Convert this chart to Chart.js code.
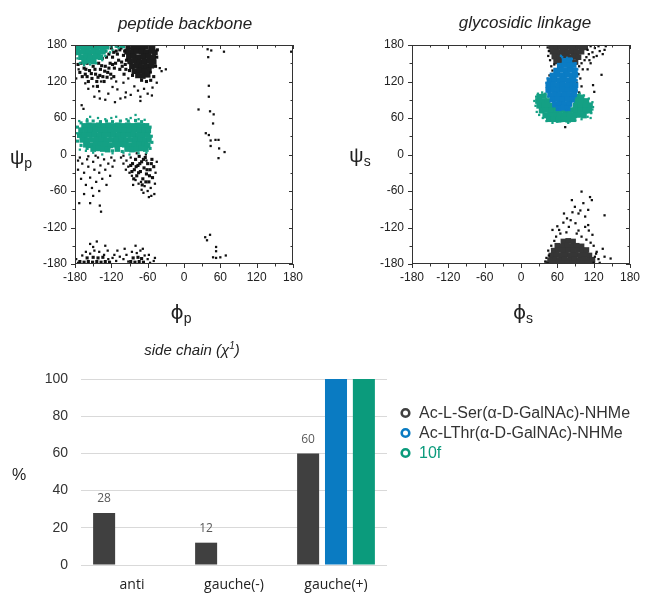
<!DOCTYPE html>
<html><head><meta charset="utf-8">
<script src="https://cdn.jsdelivr.net/npm/chart.js@4/dist/chart.umd.min.js"></script>
<style>
body{margin:0;background:#fff;}
#wrap{position:relative;width:646px;height:597px;overflow:hidden;font-family:"Liberation Sans",Arial,sans-serif;color:#222;}
canvas{position:absolute;}
.lbl{position:absolute;transform:translate(-50%,-50%);white-space:nowrap;line-height:1;}
</style></head><body>
<div id="wrap">
<canvas id="bb" width="323" height="300" style="left:0;top:0;width:323px;height:300px"></canvas>
<canvas id="gl" width="323" height="300" style="left:323px;top:0;width:323px;height:300px"></canvas>
<canvas id="sc" width="646" height="297" style="left:0;top:300px;width:646px;height:297px"></canvas>
<div class="lbl" style="left:185px;top:23px;font-size:17px;font-style:italic">peptide backbone</div>
<div class="lbl" style="left:525px;top:22px;font-size:17px;font-style:italic">glycosidic linkage</div>
<div class="lbl" style="left:21px;top:157px"><span style="font-size:20px">ψ</span><span style="font-size:14px;position:relative;top:4px">p</span></div>
<div class="lbl" style="left:360px;top:155px"><span style="font-size:20px">ψ</span><span style="font-size:14px;position:relative;top:4px">s</span></div>
<div class="lbl" style="left:181px;top:312px"><span style="font-size:20px;font-family:'DejaVu Sans'">ϕ</span><span style="font-size:14px;position:relative;top:4px">p</span></div>
<div class="lbl" style="left:523px;top:312px"><span style="font-size:20px;font-family:'DejaVu Sans'">ϕ</span><span style="font-size:14px;position:relative;top:4px">s</span></div>
<div class="lbl" style="left:192px;top:349px;font-size:15px;font-style:italic">side chain (χ<sup style="font-size:10px">1</sup>)</div>
<div class="lbl" style="left:19px;top:475px;font-size:16px">%</div>
</div>
<script>
// ---------- peptide backbone (phi_p, psi_p) ----------
const bbSerCore = [[-92,177],[-84,176],[-76,177],[-68,176],[-60,177],[-52,176],
[-94,169],[-86,168],[-78,170],[-70,169],[-62,168],[-54,170],[-48,168],
[-91,161],[-83,162],[-75,160],[-67,161],[-59,162],[-51,160],
[-89,153],[-81,154],[-73,152],[-65,153],[-57,154],[-50,152],
[-86,145],[-78,146],[-70,144],[-62,145],[-54,146],
[-82,137],[-74,138],[-66,137],[-58,138],
[-76,130],[-68,129],[-60,131]];
const bbSerMid = [[-170,150],[-165,142],[-160,150],[-156,138],[-150,145],[-146,132],[-141,150],[-138,140],[-134,128],[-130,145],[-126,135],[-122,150],[-118,160],[-115,142],[-112,170],[-108,155],[-104,175],[-100,163],[-97,148],[-160,128],[-152,125],[-144,120],[-168,160],[-172,135],[-128,160],[-120,175],[-110,178],[-135,158],[-148,158],[-155,165],[-98,170],[-96,140],[-45,160],[-47,145],[-44,172],[-50,128],[-55,122],[-62,120],[-70,122],[-85,130],[-90,138],[-95,155],[-163,132],[-142,127],[-131,137],[-118,148],[-106,140],[-103,152],
[-175,148],[-168,128],[-162,140],[-158,120],[-153,133],[-147,140],[-143,112],[-139,130],[-136,146],[-132,120],[-127,127],[-124,142],[-121,132],[-116,128],[-113,150],[-110,165],[-106,172],[-102,145],[-99,132],[-124,165],[-116,168],[-130,170],[-140,160],[-158,158],
[-85,-15],[-80,-8],[-76,-18],[-72,-28],[-70,-12],[-66,-22],[-64,-5],[-62,-32],[-60,-15],[-56,-25],[-53,-8],[-52,-38],[-58,-45],[-68,-40],[-78,-35],[-74,-3],[-82,-25],[-50,-20],
[-83,-40],[-79,-20],[-75,-30],[-69,-50],[-63,-45],[-57,-35],[-54,-15],[-61,-25],[-67,-8],[-73,-15],[-88,-18],[-86,-28],
[-172,-176],[-165,-177],[-158,-176],[-151,-177],[-144,-176],[-137,-177],[-130,-176],[-123,-177],[-88,-176],[-81,-177],[-74,-176],[-67,-177],[-160,-170],[-150,-169],[-142,-170],[-134,-169],[-84,-170],[-76,-169],[-70,-171]];
const bbSerDots = [[-163,117],[-158,108],[-150,112],[-140,104],[-137,120],[-125,100],[-118,111],[-110,107],[-105,92],[-100,118],[-96,102],[-88,98],[-82,112],[-76,105],[-72,95],[-66,108],[-60,100],[-52,110],[-45,118],[-40,142],[-30,140],[-37,137],[-55,135],[-148,95],[-130,90],[-169,81],[-166,75],[-139,92],[-114,86],[-97,94],[-72,88],[-53,97],[-120,125],[-112,120],[-92,125],[-176,170],[-174,140],[-178,125],
[-172,-5],[-168,-15],[-175,-25],[-165,-30],[-160,-8],[-158,-20],[-155,-38],[-150,-12],[-148,-25],[-145,-45],[-142,-5],[-140,-30],[-138,-18],[-135,-40],[-132,-8],[-130,-25],[-128,-50],[-125,-15],[-122,-35],[-120,-5],[-170,-40],[-162,-50],[-152,-55],[-158,-3],[-146,-2],[-175,-10],[-118,-20],[-115,-10],[-140,-60],[-165,-65],[-150,-68],[-173,-80],[-155,-80],[-139,-84],[-137,-94],
[-100,-2],[-95,-10],[-92,-20],[-88,-5],[-86,-35],[-90,-30],[-96,-25],[-100,-15],[-104,-5],[-55,-55],[-48,-48],[-60,-60],[-65,-52],[-70,-58],[-75,-48],[-80,-42],[-49,-65],[-54,-68],[-58,-70],[-47,-30],[-45,-12],[-63,0],[-78,2],[-71,-45],[-67,-63],[-84,-50],[-62,-10],
[-178,-172],[-168,-166],[-162,-160],[-155,-163],[-148,-158],[-140,-160],[-132,-165],[-126,-158],[-118,-170],[-112,-175],[-106,-168],[-100,-172],[-95,-165],[-92,-176],[-86,-160],[-78,-162],[-72,-158],[-65,-166],[-60,-172],[-56,-178],[-50,-175],[-155,-147],[-144,-143],[-150,-152],[-130,-150],[-110,-158],[-98,-155],[-80,-150],[-68,-155],[-58,-165],[-48,-170],[-175,-178],[-125,-172],[-115,-165],
[39,173],[45,171],[66,169],[40,160],[41,113],[41,95],[24,74],[43,71],[49,66],[48,51],[36,35],[41,32],[44,23],[52,24],[57,24],[44,14],[58,10],[67,4],[57,-6],[43,-132],[35,-136],[38,-141],[53,-152],[53,-159],[48,-169],[53,-170],[60,-169],[69,-166],[177,169]];
const bb10fCore = [[-176,176],[-168,177],[-160,176],[-152,177],[-144,176],[-136,177],[-128,177],
[-174,168],[-166,169],[-158,168],[-150,169],[-142,168],[-134,169],
[-170,160],[-162,161],[-154,160],[-146,161],[-138,160],
[-165,153],[-157,154],[-149,153],
[-165,47],[-157,48],[-149,47],[-141,48],[-133,47],[-125,48],[-117,47],[-109,48],[-101,47],[-93,48],[-85,47],[-77,48],[-69,47],[-62,47],
[-170,40],[-162,39],[-154,40],[-146,41],[-138,40],[-130,39],[-122,40],[-114,41],[-106,40],[-98,39],[-90,40],[-82,41],[-74,40],[-66,39],[-59,40],
[-172,32],[-164,31],[-156,32],[-148,33],[-140,32],[-132,31],[-124,32],[-116,33],[-108,32],[-100,31],[-92,32],[-84,33],[-76,32],[-68,31],[-60,32],
[-168,24],[-160,23],[-152,24],[-144,25],[-136,24],[-128,23],[-120,24],[-112,25],[-104,24],[-96,23],[-88,24],[-80,25],[-72,24],[-64,23],[-58,24],
[-162,16],[-154,15],[-146,16],[-138,17],[-130,16],[-122,15],[-114,16],[-106,17],[-98,16],[-90,15],[-82,16],[-74,17],[-66,16],[-60,15],
[-150,9],[-142,10],[-134,9],[-126,8],[-110,9],[-94,9],[-86,8],[-78,9],[-70,10],[-63,9]];
const bb10fMid = [[-120,178],[-112,178],[-104,178],[-100,177],[-176,45],[-174,30],[-176,22],[-170,15],[-170,52],[-160,55],[-150,55],[-138,54],[-128,55],[-118,54],[-105,55],[-92,55],[-80,56],[-70,54],[-56,45],[-54,30],[-53,20],[-56,10],[-118,6],[-102,5],[-160,10]];
const bb10fDots = [[-178,165],[-176,158],[-172,150],[-165,147],[-155,148],[-145,150],[-135,155],[-130,162],[-128,170],[-122,168],[-118,172],[-108,175],[-160,58],[-155,62],[-142,60],[-130,58],[-120,60],[-112,62],[-95,58],[-88,60],[-80,65],[-75,58],[-65,57],[-62,3],[-75,2],[-90,0],[-100,3],[-118,2],[-135,0],[-150,3],[-162,6],[-172,8],[-178,35],[-173,55]];

// ---------- glycosidic linkage (phi_s, psi_s) ----------
const glySerCore = [[50,177],[58,176],[66,177],[74,176],[82,177],[90,176],[98,177],[106,176],
[52,169],[60,168],[68,169],[76,168],[84,169],[92,168],[100,169],
[55,161],[63,160],[71,161],[79,160],[87,161],[95,160],
[58,153],[66,152],[82,153],[90,152],
[70,-143],[78,-142],[86,-143],
[60,-150],[68,-151],[76,-150],[84,-151],[92,-150],[100,-151],
[54,-158],[62,-157],[70,-158],[78,-157],[86,-158],[94,-157],[102,-158],[108,-157],
[50,-166],[58,-165],[66,-166],[74,-165],[82,-166],[90,-165],[98,-166],[106,-165],[113,-166],
[48,-174],[56,-173],[64,-174],[72,-173],[80,-174],[88,-173],[96,-174],[104,-173],[112,-174],[118,-173],
[45,-179],[53,-179],[61,-179],[69,-179],[77,-179],[85,-179],[93,-179],[101,-179],[109,-179],[117,-179]];
const glySerDots = [[110,172],[115,178],[112,165],[118,168],[122,175],[125,162],[130,170],[128,178],[135,165],[138,172],[105,155],[100,150],[108,160],[96,145],[102,140],[95,132],[98,125],[92,118],[100,112],[96,102],[94,95],[119,114],[121,103],[133,131],[46,170],[45,162],[48,155],[50,145],[52,138],[47,130],[55,148],[44,176],[140,178],[115,150],[110,140],[88,140],[120,160],[113,155],[73,45],
[100,-61],[84,-75],[89,-86],[71,-97],[76,-105],[95,-97],[106,-102],[111,-91],[117,-75],[114,-70],[79,-119],[63,-124],[90,-113],[106,-119],[111,-116],[52,-124],[138,-100],[135,-155],[138,-168],[148,-171],[124,-163],[44,-179],[46,-166],[40,-176],[58,-135],[65,-130],[92,-130],[100,-135],[108,-140],[115,-145],[120,-150],[125,-160],[128,-172],[45,-158],[50,-150],[55,-142],[82,-108],[70,-112],[98,-92],[103,-80],[85,-95],[60,-118],[112,-125],[118,-132],[95,-125],[75,-128],[130,-178],[122,-168],[120,-178],[42,-170]];
const glyThrCore = [[72,154],[80,155],
[64,146],[72,147],[80,146],[87,147],
[58,138],[66,139],[74,138],[82,139],[89,138],
[52,130],[60,131],[68,130],[76,131],[84,130],[90,131],
[47,122],[55,123],[63,122],[71,123],[79,122],[87,123],
[45,114],[53,115],[61,114],[69,115],[77,114],[85,115],[90,114],
[45,106],[53,107],[61,106],[69,107],[77,106],[85,107],[89,106],
[48,98],[56,99],[64,98],[72,99],[80,98],[88,99],
[52,90],[60,91],[68,90],[76,91],[84,90],
[56,82],[64,83],[72,82],[80,83],
[62,76],[70,77],[77,76]];
const glyThrDots = [[68,160],[76,159],[84,157],[90,150],[93,140],[42,118],[43,108],[44,125],[92,105],[92,122],[50,88],[86,88],[60,74],[75,73],[80,79],[66,162],[49,130],[88,93]];
const gly10fCore = [[30,95],[38,96],[92,95],[100,94],
[28,88],[36,87],[44,88],[92,88],[100,87],[108,88],
[30,80],[38,81],[46,80],[54,80],[90,80],[98,81],[106,80],[114,81],
[34,72],[42,73],[50,72],[58,72],[66,73],[74,72],[82,73],[90,72],[98,73],[106,72],[113,72],
[40,64],[48,65],[56,64],[64,65],[72,64],[80,65],[88,64],[96,65],[104,64],
[46,58],[54,58],[62,57],[70,58],[78,57],[86,58]];
const gly10fDots = [[22,88],[24,80],[25,95],[28,100],[35,102],[26,70],[30,65],[36,60],[42,55],[52,52],[60,54],[68,55],[78,52],[90,56],[100,58],[110,62],[116,68],[119,78],[118,86],[112,92],[104,97],[97,100],[118,74],[115,60],[33,75],[40,100],[45,95]];

const angleTicks = [-180,-120,-60,0,60,120,180];

// ---------- side chain (chi1) ----------
const chiCategories = ['anti','gauche(-)','gauche(+)'];
const seriesNames = ['Ac-L-Ser(α-D-GalNAc)-NHMe','Ac-LThr(α-D-GalNAc)-NHMe','10f'];
const serPercent = [28,12,60];
const thrPercent = [null,null,100];
const f10Percent = [null,null,100];
const percentTicks = [0,20,40,60,80,100];

const C_BLACK = '#111111', C_CORE = '#1c1c1c', C_CORE2 = '#363636';
const C_TEAL = '#14a084', C_BLUE = '#0b7cc4';
const C_BAR_DARK = '#404040', C_BAR_BLUE = '#0a7bc2', C_BAR_TEAL = '#0b9b7c';

const toXY = a => a.map(p => ({x:p[0], y:p[1]}));
const layer = (data, color, r, order) => ({data: toXY(data), backgroundColor: color, borderWidth: 0, pointStyle: 'rect', pointRadius: r, order});

const framePlugin = {
  id: 'frame',
  afterDatasetsDraw(chart) {
    const {ctx, chartArea: a, scales: {x, y}} = chart;
    ctx.save();
    ctx.strokeStyle = '#333'; ctx.lineWidth = 1;
    ctx.strokeRect(a.left + 0.5, a.top + 0.5, a.right - a.left - 1, a.bottom - a.top - 1);
    const xv = x.ticks.map(t => t.value), yv = y.ticks.map(t => t.value);
    const mids = v => v.slice(1).map((t, i) => (t + v[i]) / 2);
    ctx.beginPath();
    const doX = (vals, len) => vals.forEach(v => {
      const px = Math.round(x.getPixelForValue(v)) + 0.5;
      ctx.moveTo(px, a.bottom); ctx.lineTo(px, a.bottom + len);
      ctx.moveTo(px, a.top); ctx.lineTo(px, a.top + len);
    });
    const doY = (vals, len) => vals.forEach(v => {
      const py = Math.round(y.getPixelForValue(v)) + 0.5;
      ctx.moveTo(a.left - len, py); ctx.lineTo(a.left, py);
      ctx.moveTo(a.right - len, py); ctx.lineTo(a.right, py);
    });
    doX(xv, 4); doX(mids(xv), 2.5); doY(yv, 4); doY(mids(yv), 2.5);
    ctx.stroke();
    ctx.restore();
  }
};

function angleScale(fitKey, fitVal) {
  return {
    type: 'linear', min: -180, max: 180,
    afterBuildTicks: s => { s.ticks = angleTicks.map(v => ({value: v})); },
    ticks: {font: {family: 'Liberation Sans', size: 12}, color: '#222', padding: fitKey === 'height' ? 6 : 8, maxRotation: 0, autoSkip: false},
    grid: {display: false, drawTicks: false},
    border: {display: false},
    afterFit: s => { s[fitKey] = fitVal; }
  };
}

function scatter(id, datasets, leftW, padRight) {
  return new Chart(document.getElementById(id), {
    type: 'scatter',
    data: {datasets},
    options: {
      responsive: false, animation: false, events: [],
      layout: {padding: {top: 45, right: padRight, left: 0, bottom: 0}},
      plugins: {legend: {display: false}, tooltip: {enabled: false}},
      scales: {x: angleScale('height', 36), y: angleScale('width', leftW)}
    },
    plugins: [framePlugin]
  });
}

scatter('bb', [
  layer(bb10fDots, C_TEAL, 1.6, 1), layer(bb10fMid, C_TEAL, 2.2, 1), layer(bb10fCore, C_TEAL, 4, 1),
  layer(bbSerDots, C_BLACK, 1.6, 3), layer(bbSerMid, C_BLACK, 2.2, 3), layer(bbSerCore, C_CORE, 4, 3)
], 75, 30);

scatter('gl', [
  layer(glyThrDots, C_BLUE, 1.6, 1), layer(glyThrCore, C_BLUE, 4, 1),
  layer(gly10fDots, C_TEAL, 1.6, 2), layer(gly10fCore, C_TEAL, 4, 2),
  layer(glySerDots, C_BLACK, 1.6, 3), layer(glySerCore, C_CORE2, 4, 3)
], 89, 10);

const barExtras = {
  id: 'barExtras',
  afterDatasetsDraw(chart) {
    const ctx = chart.ctx;
    ctx.save();
    const meta = chart.getDatasetMeta(0);
    ctx.font = '12px "Open Sans"'; ctx.fillStyle = '#595959';
    ctx.textAlign = 'center'; ctx.textBaseline = 'middle';
    meta.data.forEach((bar, i) => {
      const v = chart.data.datasets[0].data[i];
      if (v != null) ctx.fillText(String(v), bar.x, bar.y - 14);
    });
    ctx.font = '16px "Liberation Sans"'; ctx.textAlign = 'left';
    chart.data.datasets.forEach((ds, i) => {
      const y = 113 + i * 20;
      ctx.beginPath(); ctx.arc(405.5, y, 3.8, 0, Math.PI * 2);
      ctx.fillStyle = '#fff'; ctx.fill();
      ctx.lineWidth = 2.6; ctx.strokeStyle = ds.backgroundColor; ctx.stroke();
      ctx.fillStyle = i === 2 ? ds.backgroundColor : '#333';
      ctx.fillText(ds.label, 419, y + 1);
    });
    ctx.restore();
  }
};

new Chart(document.getElementById('sc'), {
  type: 'bar',
  data: {
    labels: chiCategories,
    datasets: [
      {label: seriesNames[0], data: serPercent, backgroundColor: C_BAR_DARK},
      {label: seriesNames[1], data: thrPercent, backgroundColor: C_BAR_BLUE},
      {label: seriesNames[2], data: f10Percent, backgroundColor: C_BAR_TEAL}
    ]
  },
  options: {
    responsive: false, animation: false, events: [],
    categoryPercentage: 0.82, barPercentage: 0.79,
    layout: {padding: {top: 79, right: 259, left: 0, bottom: 0}},
    plugins: {legend: {display: false}, tooltip: {enabled: false}},
    scales: {
      x: {
        ticks: {font: {family: 'Open Sans', size: 14}, color: '#222', padding: 12},
        grid: {display: false, drawTicks: false}, border: {display: false},
        afterFit: s => { s.height = 32; }
      },
      y: {
        min: 0, max: 100,
        afterBuildTicks: s => { s.ticks = percentTicks.map(v => ({value: v})); },
        ticks: {font: {family: 'Liberation Sans', size: 14}, color: '#333', padding: 13},
        grid: {color: '#d9d9d9', drawTicks: false, lineWidth: 1}, border: {display: false},
        afterFit: s => { s.width = 81; }
      }
    }
  },
  plugins: [barExtras]
});
</script>
</body></html>
